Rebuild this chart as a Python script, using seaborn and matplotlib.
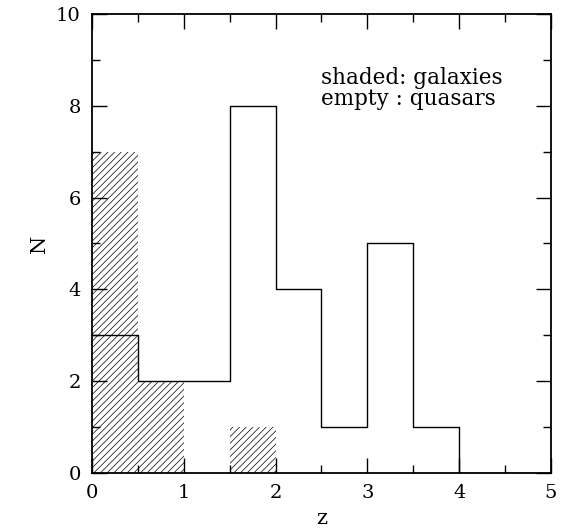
import numpy as np
import pandas as pd
import matplotlib
matplotlib.use("Agg")
import matplotlib.pyplot as plt
import seaborn as sns
from matplotlib.ticker import MultipleLocator

# Data
bin_edges = [0.0, 0.5, 1.0, 1.5, 2.0, 2.5, 3.0, 3.5, 4.0, 4.5, 5.0]
bin_centers = [0.25, 0.75, 1.25, 1.75, 2.25, 2.75, 3.25, 3.75, 4.25, 4.75]
galaxies = [7, 2, 0, 1, 0, 0, 0, 0, 0, 0]
quasars = [3, 2, 2, 8, 4, 1, 5, 1, 0, 0]

sns.set_style("ticks")
plt.rcParams['font.family'] = ['DejaVu Serif']
plt.rcParams['hatch.linewidth'] = 0.5
plt.rcParams['text.color'] = 'black'
plt.rcParams['xtick.labelcolor'] = 'black'
plt.rcParams['ytick.labelcolor'] = 'black'
plt.rcParams['axes.labelcolor'] = 'black'

fig = plt.figure(figsize=(5.71, 5.31), dpi=100)
ax = fig.add_axes([0.161, 0.109, 0.804, 0.865])

df_g = pd.DataFrame({"z": bin_centers, "N": galaxies})
df_q = pd.DataFrame({"z": bin_centers, "N": quasars})

sns.histplot(data=df_g, x="z", weights="N", bins=bin_edges, element="bars",
             fill=True, ax=ax, color="none", edgecolor="none", linewidth=0)
for p in ax.patches:
    p.set_hatch("/////")
    p.set_facecolor("none")
    p.set_edgecolor("black")
    p.set_linewidth(0)

sns.histplot(data=df_q, x="z", weights="N", bins=bin_edges, element="step",
             fill=False, ax=ax, color="black", linewidth=1.0)

ax.set_xlim(0, 5)
ax.set_ylim(0, 10)
ax.xaxis.set_major_locator(MultipleLocator(1))
ax.xaxis.set_minor_locator(MultipleLocator(0.5))
ax.yaxis.set_major_locator(MultipleLocator(2))
ax.yaxis.set_minor_locator(MultipleLocator(1))
ax.tick_params(which="both", direction="in", top=True, right=True,
               labelsize=14, color="black", width=1.0, labelcolor="black")
ax.tick_params(which="major", length=11, pad=8)
ax.tick_params(which="minor", length=5.5)
for s in ax.spines.values():
    s.set_linewidth(1.3)
    s.set_color("black")

ax.set_xlabel("z", fontsize=15, labelpad=5, color="black")
ax.set_ylabel("N", fontsize=15, labelpad=5, color="black")

ax.text(2.5, 8.85, "shaded: galaxies\nempty : quasars", fontsize=15.5,
        ha="left", va="top", linespacing=0.95, color="black")

fig.savefig("out.png", dpi=100)
